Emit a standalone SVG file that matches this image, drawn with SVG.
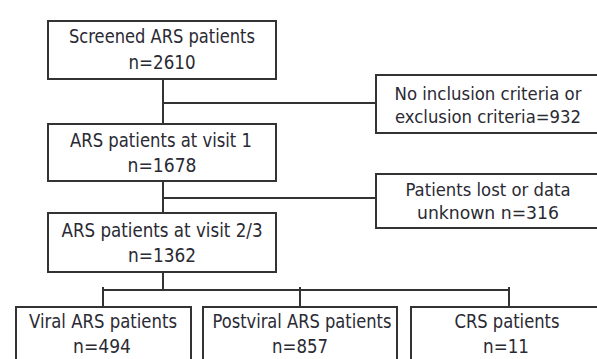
<svg xmlns="http://www.w3.org/2000/svg" width="597" height="359" viewBox="0 0 597 359">
<style>
.box{fill:#fff;stroke:#333;stroke-width:2}
.c{fill:none;stroke:#333;stroke-width:2}
text{font-family:"Liberation Sans Narrow","DejaVu Sans Condensed","Liberation Sans",sans-serif;font-size:20px;fill:#2a2a33;text-anchor:middle}
text.s{font-size:18.5px}
</style>
<rect width="597" height="359" fill="#fff"/>
<g id="connectors">
<path class="c" d="M163 79V124M163 103H376"/>
<path class="c" d="M163 181V213M163 198H376"/>
<path class="c" d="M163 272V290M103 290H509M103 287V307M300 287V307M509 287V307"/>
</g>
<g id="screened">
<rect class="box" x="48" y="21" width="228" height="58"/>
<text x="162" y="43" textLength="186" lengthAdjust="spacingAndGlyphs">Screened ARS patients</text>
<text x="162" y="69" textLength="67" lengthAdjust="spacingAndGlyphs">n=2610</text>
</g>
<g id="visit1">
<rect class="box" x="48" y="124" width="228" height="57"/>
<text x="161" y="147" textLength="182" lengthAdjust="spacingAndGlyphs">ARS patients at visit 1</text>
<text x="162" y="172" textLength="69" lengthAdjust="spacingAndGlyphs">n=1678</text>
</g>
<g id="excluded">
<rect class="box" x="376" y="75" width="240" height="58"/>
<text class="s" x="488" y="100" textLength="187" lengthAdjust="spacingAndGlyphs">No inclusion criteria or</text>
<text class="s" x="488" y="123" textLength="186" lengthAdjust="spacingAndGlyphs">exclusion criteria=932</text>
</g>
<g id="lost">
<rect class="box" x="376" y="174" width="240" height="54"/>
<text class="s" x="488" y="196" textLength="165" lengthAdjust="spacingAndGlyphs">Patients lost or data</text>
<text class="s" x="488" y="219" textLength="142" lengthAdjust="spacingAndGlyphs">unknown n=316</text>
</g>
<g id="visit23">
<rect class="box" x="48" y="213" width="228" height="59"/>
<text x="162" y="237" textLength="201" lengthAdjust="spacingAndGlyphs">ARS patients at visit 2/3</text>
<text x="162" y="262" textLength="68" lengthAdjust="spacingAndGlyphs">n=1362</text>
</g>
<g id="viral">
<rect class="box" x="16" y="307" width="175" height="62"/>
<text x="103" y="328" textLength="148" lengthAdjust="spacingAndGlyphs">Viral ARS patients</text>
<text x="102" y="353" textLength="58" lengthAdjust="spacingAndGlyphs">n=494</text>
</g>
<g id="postviral">
<rect class="box" x="203" y="307" width="194" height="62"/>
<text x="302" y="328" textLength="179" lengthAdjust="spacingAndGlyphs">Postviral ARS patients</text>
<text x="300" y="353" textLength="56" lengthAdjust="spacingAndGlyphs">n=857</text>
</g>
<g id="crs">
<rect class="box" x="411" y="307" width="210" height="62"/>
<text x="507" y="328" textLength="105" lengthAdjust="spacingAndGlyphs">CRS patients</text>
<text x="506" y="353" textLength="46" lengthAdjust="spacingAndGlyphs">n=11</text>
</g>
</svg>
